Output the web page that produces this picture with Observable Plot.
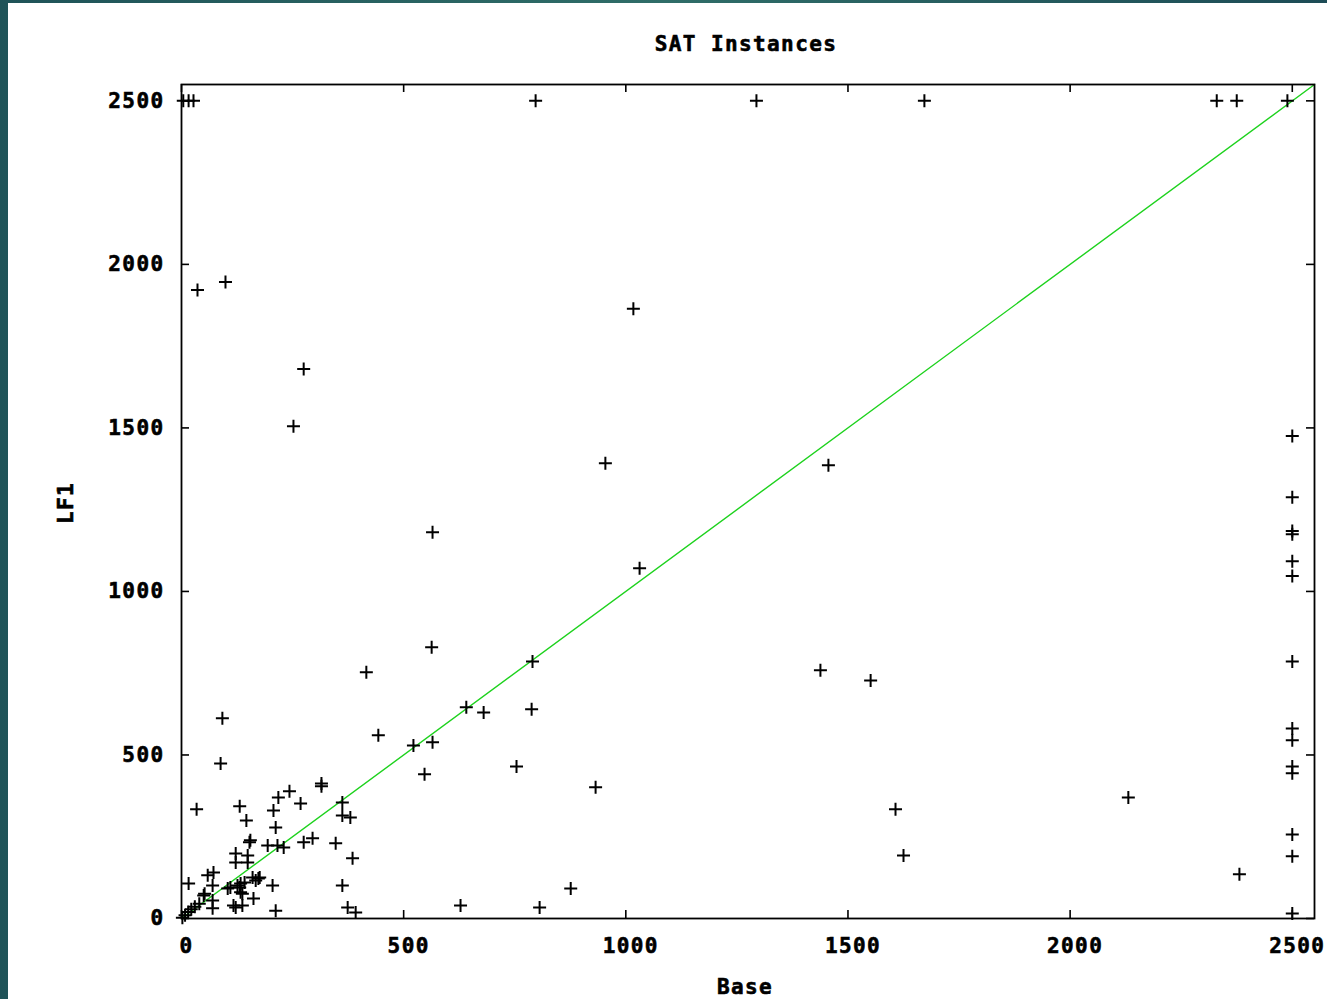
<!DOCTYPE html>
<html><head><meta charset="utf-8">
<script src="https://cdn.jsdelivr.net/npm/d3@7"></script>
<script src="https://cdn.jsdelivr.net/npm/@observablehq/plot@0.6"></script>
<style>
html,body{margin:0;padding:0;width:1327px;height:999px;overflow:hidden;}
body{background:linear-gradient(90deg,#1f5358 0%,#2f6d68 50%,#1d4c56 100%);position:relative;font-family:"DejaVu Sans Mono",monospace;font-weight:bold;}
#page{position:absolute;left:8px;top:3px;right:0;bottom:0;background:#fff;}
#chart{position:absolute;left:0;top:0;}
#chart text{stroke:#000;stroke-width:0.6px;}
.lbl{position:absolute;font-size:21px;letter-spacing:1.4px;color:#000;white-space:nowrap;transform:translate(-50%,-50%);-webkit-text-stroke:0.6px #000;}
</style></head>
<body>
<div id="page"></div>
<div id="chart"></div>
<div class="lbl" style="left:746px;top:44px;">SAT Instances</div>
<div class="lbl" style="left:66px;top:503px;transform:translate(-50%,-50%) rotate(-90deg);">LF1</div>
<div class="lbl" style="left:745px;top:987px;">Base</div>
<script>
// ---- data ----
const xTicks = [0, 500, 1000, 1500, 2000, 2500];
const yTicks = [0, 500, 1000, 1500, 2000, 2500];
const axisMax = 2550;
const baseVals = [
  4, 16, 27, 797, 1294, 1672, 2330, 2375, 2489,
  36, 99, 275, 252, 1017, 954, 1456, 565, 1031, 563, 416, 790, 1438, 1551,
  92, 641, 680, 788, 443, 522, 565, 88, 754, 547, 932, 2131, 1607, 1625, 2381,
  876, 806, 628, 34, 16,
  2500, 2500, 2500, 2500, 2500, 2500, 2500, 2500, 2500, 2500, 2500, 2500, 2500, 2500,
  131, 146, 315, 315, 243, 218, 268, 207, 212, 362, 362, 380, 155, 122, 122, 149, 149,
  194, 216, 230, 275, 295, 347, 385, 362, 374, 392, 212, 205, 167, 162, 59, 72, 70, 50,
  70, 110, 126, 133, 117, 133, 160, 173, 104, 2, 8, 15, 22, 30, 40, 137, 52, 70, 122,
  137, 176, 142, 131, 153
];
const lf1Vals = [
  2500, 2500, 2500, 2500, 2500, 2500, 2500, 2500, 2500,
  1922, 1946, 1680, 1505, 1864, 1392, 1386, 1181, 1071, 829, 753, 786, 759, 728,
  612, 646, 630, 640, 560, 529, 539, 474, 465, 441, 401, 370, 334, 193, 135,
  92, 34, 40, 334, 107,
  1475, 1288, 1185, 1175, 1092, 1047, 786, 581, 545, 465, 444, 257, 190, 15,
  343, 300, 413, 404, 389, 370, 352, 330, 278, 355, 315, 309, 239, 199, 171, 193, 171,
  223, 223, 217, 233, 245, 230, 184, 101, 34, 18, 24, 101, 116, 61, 132, 141, 101, 70,
  31, 95, 101, 107, 40, 80, 125, 122, 92, 2, 10, 20, 28, 36, 45, 76, 76, 55, 34,
  40, 125, 110, 95, 233
];
const diagonal = [0, axisMax];

// ---- build ----
const points = baseVals.map((b, i) => ({base: b, lf1: lf1Vals[i]}));
const plotH = 999 - 84 - 81, plotW = 1327 - 181 - 13;
const tickLenY = 8 * axisMax / plotH;
const tickLenX = 8 * axisMax / plotW;
const plus = {draw(ctx, size) {
  const r = Math.sqrt(size / Math.PI);
  ctx.moveTo(-r, 0); ctx.lineTo(r, 0);
  ctx.moveTo(0, -r); ctx.lineTo(0, r);
}};
const fmt = d => String(d);
const chart = Plot.plot({
  width: 1327, height: 999,
  marginLeft: 181, marginTop: 84, marginRight: 13, marginBottom: 81,
  style: {background: "transparent", fontFamily: "DejaVu Sans Mono", fontWeight: "bold", fontSize: "21px", color: "#000", letterSpacing: "1.4px"},
  x: {domain: [0, axisMax]},
  y: {domain: [0, axisMax]},
  marks: [
    Plot.axisX({ticks: xTicks, tickSize: 0, tickPadding: 20, dx: 5, label: null, tickFormat: fmt}),
    Plot.axisY({ticks: yTicks, tickSize: 0, tickPadding: 17, label: null, tickFormat: fmt}),
    Plot.ruleX(xTicks, {x: d => d, y1: 0, y2: tickLenY, stroke: "#000", strokeWidth: 1.6}),
    Plot.ruleX(xTicks, {x: d => d, y1: axisMax - tickLenY, y2: axisMax, stroke: "#000", strokeWidth: 1.6}),
    Plot.ruleY(yTicks, {y: d => d, x1: 0, x2: tickLenX, stroke: "#000", strokeWidth: 1.6}),
    Plot.ruleY(yTicks, {y: d => d, x1: axisMax - tickLenX, x2: axisMax, stroke: "#000", strokeWidth: 1.6}),
    Plot.line(diagonal, {x: d => d, y: d => d, stroke: "#1ed21e", strokeWidth: 1.4}),
    Plot.dot(points, {x: "base", y: "lf1", symbol: plus, r: 6.5, stroke: "#000", fill: "none", strokeWidth: 2}),
    Plot.frame({stroke: "#000", strokeWidth: 1.8})
  ]
});
document.getElementById("chart").appendChild(chart);
</script>
</body></html>
